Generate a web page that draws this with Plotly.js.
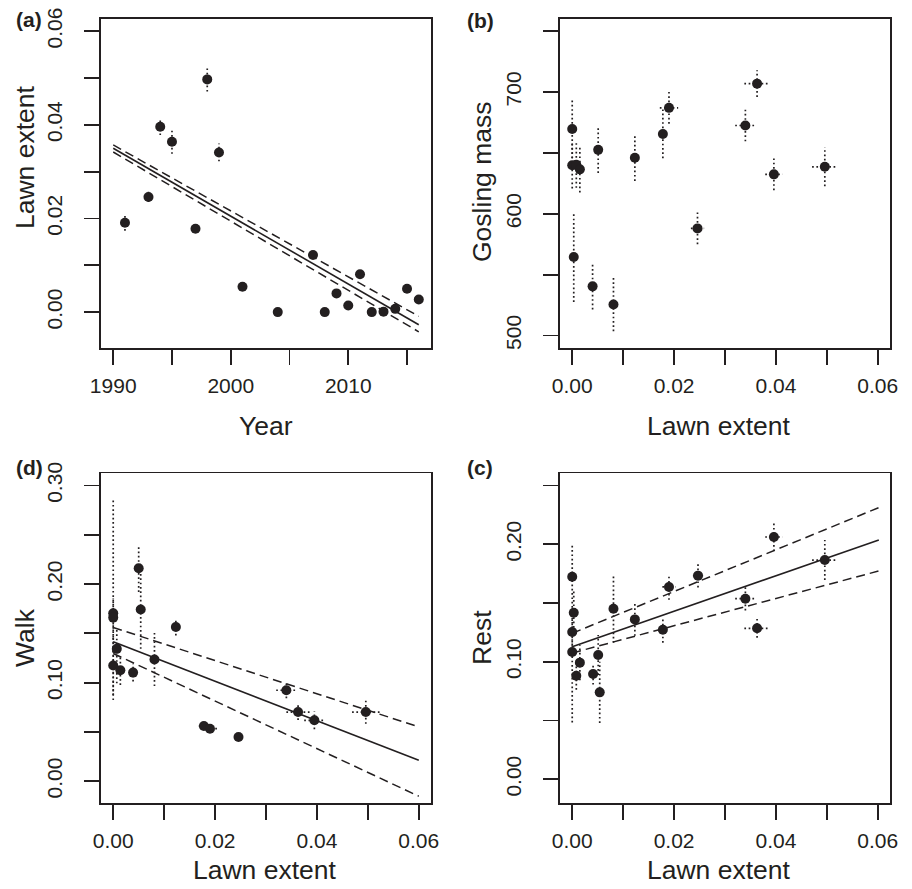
<!DOCTYPE html>
<html>
<head>
<meta charset="utf-8">
<script src="https://cdn.plot.ly/plotly-3.0.1.min.js"></script>
<style>html,body{margin:0;padding:0;background:#fff;}#chart{width:912px;height:889px;}</style>
</head>
<body>
<div id="chart"></div>
<script>
// ---------- Panel (a): Lawn extent vs Year ----------
const yearA = [1991, 1993, 1994, 1995, 1997, 1998, 1999, 2001, 2004, 2007, 2008, 2009, 2010, 2011, 2012, 2013, 2014, 2015, 2016];
const lawnA = [0.0191, 0.0246, 0.0396, 0.0364, 0.0178, 0.0497, 0.0341, 0.0054, 0.0000, 0.0122, 0.0000, 0.0040, 0.0014, 0.0081, 0.0000, 0.0001, 0.0007, 0.0050, 0.0027];
const lawnErrA = [0.0017, 0.0011, 0.0018, 0.0026, 0.0008, 0.0026, 0.0019, 0, 0, 0.0005, 0, 0, 0, 0, 0, 0, 0, 0, 0];
const fitYearA = [1990, 2016];
const fitA = [0.0350, -0.0027];
const fitUpA = [0.0357, -0.0009];
const fitLoA = [0.0342, -0.0042];

// ---------- Panel (b): Gosling mass vs Lawn extent ----------
const lawnB = [0.0000, 0.0000, 0.0008, 0.0015, 0.0003, 0.0040, 0.0051, 0.0081, 0.0123, 0.0178, 0.0190, 0.0246, 0.0340, 0.0363, 0.0396, 0.0496];
const massB = [669.7, 639.8, 640.3, 636.5, 564.5, 540.4, 652.5, 525.5, 646.0, 665.6, 687.0, 588.0, 672.5, 706.9, 632.4, 638.6];
const massErrB = [24, 19, 19, 19, 37, 19, 19, 22, 19, 20, 13, 13, 13, 11, 13, 16];
const lawnErrB = [0, 0, 0, 0, 0, 0, 0, 0, 0, 0, 0.0018, 0.0013, 0.0020, 0.0025, 0.0017, 0.0025];

// ---------- Panel (d): Walk vs Lawn extent ----------
const lawnD = [0.0000, 0.0000, 0.0000, 0.0007, 0.0014, 0.0039, 0.0050, 0.0054, 0.0081, 0.0123, 0.0178, 0.0190, 0.0246, 0.0340, 0.0363, 0.0395, 0.0496];
const walkD = [0.1703, 0.1660, 0.1174, 0.1343, 0.1126, 0.1102, 0.2160, 0.1743, 0.1235, 0.1564, 0.0560, 0.0533, 0.0448, 0.0923, 0.0702, 0.0618, 0.0702];
const walkErrUpD = [0.115, 0.020, 0.030, 0.020, 0.015, 0.009, 0.024, 0.040, 0.027, 0.0085, 0.003, 0.003, 0.004, 0.008, 0.008, 0.009, 0.012];
const walkErrDnD = [0.088, 0.020, 0.030, 0.035, 0.015, 0.009, 0.024, 0.040, 0.027, 0.0085, 0.003, 0.003, 0.004, 0.008, 0.008, 0.009, 0.012];
const lawnErrD = [0, 0, 0, 0, 0, 0, 0, 0, 0, 0, 0.0010, 0.0015, 0.0008, 0.0020, 0.0023, 0.0020, 0.0027];
const fitXD = [0, 0.06];
const fitD = [0.1414, 0.0213];
const fitUpD = [0.1560, 0.0551];
const fitLoD = [0.1296, -0.0152];

// ---------- Panel (c): Rest vs Lawn extent ----------
const lawnC = [0.0000, 0.0003, 0.0000, 0.0000, 0.0015, 0.0008, 0.0041, 0.0051, 0.0054, 0.0081, 0.0123, 0.0178, 0.0190, 0.0247, 0.0340, 0.0363, 0.0396, 0.0496];
const restC = [0.1724, 0.1418, 0.1254, 0.1083, 0.0993, 0.0882, 0.0896, 0.1058, 0.0740, 0.1452, 0.1361, 0.1273, 0.1637, 0.1733, 0.1537, 0.1285, 0.2062, 0.1866];
const restErrUpC = [0.028, 0.020, 0.020, 0.030, 0.015, 0.012, 0.009, 0.017, 0.026, 0.029, 0.014, 0.011, 0.011, 0.010, 0.010, 0.008, 0.012, 0.017];
const restErrDnC = [0.030, 0.020, 0.020, 0.060, 0.015, 0.012, 0.009, 0.017, 0.026, 0.029, 0.014, 0.011, 0.011, 0.010, 0.010, 0.008, 0.012, 0.017];
const lawnErrC = [0, 0, 0, 0, 0, 0, 0, 0, 0, 0, 0, 0, 0.0013, 0.0010, 0.0020, 0.0025, 0.0017, 0.0025];
const fitXC = [0, 0.0602];
const fitC = [0.1129, 0.2037];
const fitUpC = [0.1243, 0.2312];
const fitLoC = [0.1075, 0.1773];

// ---------- Tick definitions ----------
const yearTicks = [1990, 1995, 2000, 2005, 2010, 2015];
const yearTickText = ['1990', '', '2000', '', '2010', ''];
const lawnTicks = [0, 0.01, 0.02, 0.03, 0.04, 0.05, 0.06];
const lawnTickText = ['0.00', '', '0.02', '', '0.04', '', '0.06'];
const massTicks = [500, 550, 600, 650, 700, 750];
const massTickText = ['500', '', '600', '', '700', ''];
const walkTicks = [0, 0.05, 0.10, 0.15, 0.20, 0.25, 0.30];
const walkTickText = ['0.00', '', '0.10', '', '0.20', '', '0.30'];
const restTicks = [0, 0.05, 0.10, 0.15, 0.20, 0.25];
const restTickText = ['0.00', '', '0.10', '', '0.20', ''];

const INK = '#231f20';
const FONT = 'Liberation Sans, Arial, Helvetica, sans-serif';

function vSegs(x, y, up, dn) {
  const xs = [], ys = [];
  for (let i = 0; i < x.length; i++) {
    if ((up[i] || 0) + (dn[i] || 0) <= 0) continue;
    xs.push(x[i], x[i], null);
    ys.push(y[i] - dn[i], y[i] + up[i], null);
  }
  return {xs, ys};
}
function hSegs(x, y, e) {
  const xs = [], ys = [];
  for (let i = 0; i < x.length; i++) {
    if (!e[i]) continue;
    xs.push(x[i] - e[i], x[i] + e[i], null);
    ys.push(y[i], y[i], null);
  }
  return {xs, ys};
}

const traces = [];
function addPanel(ax, ay, x, y, up, dn, xerr, fit) {
  const xa = 'x' + ax, ya = 'y' + ay;
  const v = vSegs(x, y, up, dn);
  traces.push({type: 'scatter', mode: 'lines', x: v.xs, y: v.ys, xaxis: xa, yaxis: ya,
    line: {color: INK, width: 1.7, dash: '1.7px,2.6px'}, hoverinfo: 'skip', showlegend: false});
  if (xerr) {
    const h = hSegs(x, y, xerr);
    traces.push({type: 'scatter', mode: 'lines', x: h.xs, y: h.ys, xaxis: xa, yaxis: ya,
      line: {color: INK, width: 1.7, dash: '1.7px,2.6px'}, hoverinfo: 'skip', showlegend: false});
  }
  if (fit) {
    traces.push({type: 'scatter', mode: 'lines', x: fit.x, y: fit.up, xaxis: xa, yaxis: ya,
      line: {color: INK, width: 1.5, dash: '9px,5px'}, showlegend: false});
    traces.push({type: 'scatter', mode: 'lines', x: fit.x, y: fit.lo, xaxis: xa, yaxis: ya,
      line: {color: INK, width: 1.5, dash: '9px,5px'}, showlegend: false});
    traces.push({type: 'scatter', mode: 'lines', x: fit.x, y: fit.y, xaxis: xa, yaxis: ya,
      line: {color: INK, width: 1.6}, showlegend: false});
  }
  traces.push({type: 'scatter', mode: 'markers', x: x, y: y, xaxis: xa, yaxis: ya,
    marker: {color: INK, size: 10}, showlegend: false});
}

addPanel('', '', yearA, lawnA, lawnErrA, lawnErrA, null, {x: fitYearA, y: fitA, up: fitUpA, lo: fitLoA});
addPanel('2', '2', lawnB, massB, massErrB, massErrB, lawnErrB, null);
addPanel('3', '3', lawnD, walkD, walkErrUpD, walkErrDnD, lawnErrD, {x: fitXD, y: fitD, up: fitUpD, lo: fitLoD});
addPanel('4', '4', lawnC, restC, restErrUpC, restErrDnC, lawnErrC, {x: fitXC, y: fitC, up: fitUpC, lo: fitLoC});

const W = 912, H = 889;
const px = v => v / W;
const py = v => (H - v) / H;

function axis(domainPx, isY, range, vals, text, anchor) {
  const a = {
    domain: isY ? [py(domainPx[1]), py(domainPx[0])] : [px(domainPx[0]), px(domainPx[1])],
    range: range, anchor: anchor,
    showline: true, linewidth: 1.8, linecolor: INK, mirror: true,
    ticks: 'outside', ticklen: 15, tickwidth: 1.8, tickcolor: INK,
    showgrid: false, zeroline: false,
    tickmode: 'array', tickvals: vals, ticktext: text,
    tickfont: {family: FONT, size: 21, color: INK},
    ticklabelstandoff: isY ? 14 : 3
  };
  if (isY) a.tickangle = -90;
  return a;
}

const topY = [19, 347.7], botY = [473.3, 803.3];
const leftX = [101, 431], rightX = [560, 890];

const layout = {
  width: W, height: H,
  margin: {l: 0, r: 0, t: 0, b: 0},
  paper_bgcolor: '#fff', plot_bgcolor: '#fff',
  showlegend: false,
  xaxis: axis(leftX, false, [1988.96, 2017.04], yearTicks, yearTickText, 'y'),
  yaxis: axis(topY, true, [-0.0076, 0.0626], lawnTicks, lawnTickText, 'x'),
  xaxis2: axis(rightX, false, [-0.0024, 0.0624], lawnTicks, lawnTickText, 'y2'),
  yaxis2: axis(topY, true, [490, 760], massTicks, massTickText, 'x2'),
  xaxis3: axis(leftX, false, [-0.0024, 0.0624], lawnTicks, lawnTickText, 'y3'),
  yaxis3: axis(botY, true, [-0.0224, 0.3124], walkTicks, walkTickText, 'x3'),
  xaxis4: axis(rightX, false, [-0.0024, 0.0624], lawnTicks, lawnTickText, 'y4'),
  yaxis4: axis(botY, true, [-0.0204, 0.2604], restTicks, restTickText, 'x4'),
  annotations: []
};

function ann(text, x, y, opts) {
  layout.annotations.push(Object.assign({
    text: text, xref: 'paper', yref: 'paper', x: px(x), y: py(y),
    xanchor: 'center', yanchor: 'middle', showarrow: false,
    font: {family: FONT, size: 26.5, color: INK}
  }, opts || {}));
}
// panel labels
const labFont = {family: FONT, size: 21, color: INK};
ann('<b>(a)</b>', 29, 20, {font: labFont});
ann('<b>(b)</b>', 480, 21, {font: labFont});
ann('<b>(d)</b>', 29, 467, {font: labFont});
ann('<b>(c)</b>', 480, 467, {font: labFont});
// axis titles
ann('Lawn extent', 25, 157, {textangle: -90});
ann('Gosling mass', 482, 182, {textangle: -90});
ann('Walk', 25, 638, {textangle: -90});
ann('Rest', 482, 638, {textangle: -90});
ann('Year', 266, 426);
ann('Lawn extent', 719, 426);
ann('Lawn extent', 265, 870);
ann('Lawn extent', 719, 870);

Plotly.newPlot('chart', traces, layout, {staticPlot: true, displayModeBar: false});
</script>
</body>
</html>
